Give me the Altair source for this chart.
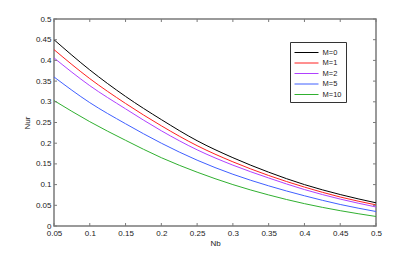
import altair as alt
import pandas as pd

nb = [0.05, 0.10, 0.15, 0.20, 0.25, 0.30, 0.35, 0.40, 0.45, 0.50]
nur_m0 = [0.450, 0.377, 0.313, 0.257, 0.206, 0.165, 0.130, 0.100, 0.076, 0.056]
nur_m1 = [0.426, 0.356, 0.296, 0.242, 0.194, 0.155, 0.122, 0.094, 0.070, 0.051]
nur_m2 = [0.406, 0.339, 0.283, 0.230, 0.184, 0.147, 0.116, 0.088, 0.065, 0.046]
nur_m5 = [0.360, 0.298, 0.247, 0.200, 0.159, 0.125, 0.097, 0.073, 0.052, 0.035]
nur_m10 = [0.303, 0.252, 0.207, 0.165, 0.130, 0.100, 0.075, 0.054, 0.037, 0.023]

series = ["M=0", "M=1", "M=2", "M=5", "M=10"]
colors = ["#000000", "#ff2020", "#b040ff", "#4060ff", "#30b030"]
x_ticks = [0.05, 0.1, 0.15, 0.2, 0.25, 0.3, 0.35, 0.4, 0.45, 0.5]
y_ticks = [0, 0.05, 0.1, 0.15, 0.2, 0.25, 0.3, 0.35, 0.4, 0.45, 0.5]

rows = []
for name, vals in zip(series, [nur_m0, nur_m1, nur_m2, nur_m5, nur_m10]):
    for x, v in zip(nb, vals):
        rows.append({"Nb": x, "Nur": v, "M": name})
df = pd.DataFrame(rows)

W, H = 322, 207
FONT = "Liberation Sans"
AX = "#7a7a7a"

xs = alt.Scale(domain=[0.05, 0.5], nice=False, zero=False)
ys = alt.Scale(domain=[0, 0.5], nice=False, zero=False)
xaxis = alt.Axis(title="Nb", values=x_ticks, format="~g", ticks=False,
                 labelPadding=3, titlePadding=2, domain=False,
                 labelFlush=False, labelOverlap=False)
yaxis = alt.Axis(title="Nur", values=y_ticks, format="~g", ticks=False,
                 labelPadding=3, titlePadding=4, domain=False,
                 labelOverlap=False)

lines = alt.Chart(df).mark_line(strokeWidth=1, interpolate="monotone").encode(
    x=alt.X("Nb:Q", scale=xs, axis=xaxis),
    y=alt.Y("Nur:Q", scale=ys, axis=yaxis),
    color=alt.Color("M:N", sort=series,
                    scale=alt.Scale(domain=series, range=colors),
                    legend=alt.Legend(title=None, orient="none", legendX=236, legendY=23,
                                      symbolType="M-1,0L3,0", symbolSize=144,
                                      symbolStrokeWidth=1, fillColor="white",
                                      strokeColor="#333333", padding=4,
                                      labelFontSize=7.5, labelFont=FONT,
                                      labelColor="#222222", rowPadding=0.5,
                                      labelOffset=15.5)),
)

xt = pd.DataFrame({"t": x_ticks})
yt = pd.DataFrame({"t": y_ticks})
TL = 3
bt = alt.Chart(xt).mark_rule(color=AX, strokeWidth=1).encode(
    x=alt.X("t:Q", scale=xs, axis=xaxis), y=alt.value(H), y2=alt.value(H - TL))
tt = alt.Chart(xt).mark_rule(color=AX, strokeWidth=1).encode(
    x=alt.X("t:Q", scale=xs, axis=xaxis), y=alt.value(0), y2=alt.value(TL))
lt = alt.Chart(yt).mark_rule(color=AX, strokeWidth=1).encode(
    y=alt.Y("t:Q", scale=ys, axis=yaxis), x=alt.value(0), x2=alt.value(TL))
rt = alt.Chart(yt).mark_rule(color=AX, strokeWidth=1).encode(
    y=alt.Y("t:Q", scale=ys, axis=yaxis), x=alt.value(W), x2=alt.value(W - TL))

chart = alt.layer(lines, bt, tt, lt, rt).properties(
    width=W, height=H,
    autosize=alt.AutoSizeParams(type="none"),
    padding={"left": 46, "top": 11, "right": 20, "bottom": 20},
    background="white",
).configure_view(stroke=AX, strokeWidth=1.5).configure_axis(
    labelFont=FONT, titleFont=FONT, labelFontSize=8, titleFontSize=8,
    titleFontWeight="normal", labelColor="#222222", titleColor="#222222",
    grid=False,
)

chart.save("out.html", embed_options={"renderer": "svg", "actions": False})
